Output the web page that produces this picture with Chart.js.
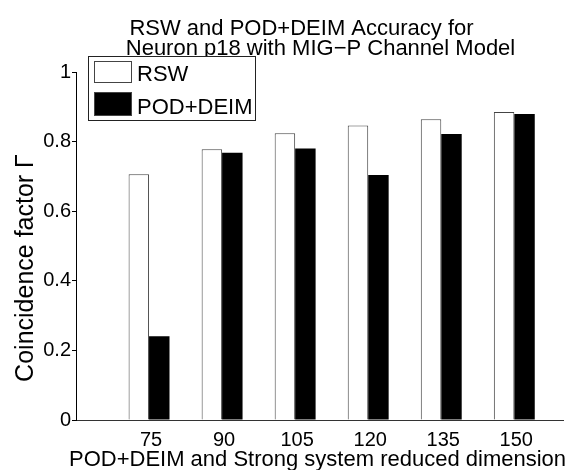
<!DOCTYPE html>
<html>
<head>
<meta charset="utf-8">
<script src="https://cdn.jsdelivr.net/npm/chart.js@4.4.1/dist/chart.umd.min.js"></script>
<style>
  html, body { margin: 0; padding: 0; background: #fff; }
  #wrap { width: 572px; height: 470px; }
</style>
</head>
<body>
<div id="wrap"><canvas id="c" width="572" height="470"></canvas></div>
<script>
// Reduced system dimension (x categories)
const dimensions = [75, 90, 105, 120, 135, 150];
// Coincidence factor for each method
const rswValues = [0.706, 0.778, 0.824, 0.846, 0.864, 0.885];
const podDeimValues = [0.241, 0.768, 0.780, 0.704, 0.822, 0.879];
// Y axis tick values
const yTicks = [0, 0.2, 0.4, 0.6, 0.8, 1];
const seriesNames = ['RSW', 'POD+DEIM'];
const seriesFills = ['#ffffff', '#000000'];
const titleLines = ['RSW and POD+DEIM Accuracy for', 'Neuron p18 with MIG\u2212P Channel Model'];
const xTitle = 'POD+DEIM and Strong system reduced dimension';
const yTitle = 'Coincidence factor \u0393';

const FONT = '"Liberation Sans", Arial, Helvetica, sans-serif';

// Text and legend drawn on top of the plot
const annotations = {
  id: 'annotations',
  afterDraw(chart) {
    const ctx = chart.ctx;
    const area = chart.chartArea;
    const mid = (area.left + area.right) / 2;
    ctx.save();
    ctx.fillStyle = '#000';
    ctx.font = '22px ' + FONT;
    ctx.textAlign = 'center';
    ctx.textBaseline = 'alphabetic';
    ctx.fillText(titleLines[0], mid - 18, 35);
    ctx.fillText(titleLines[1], mid + 1, 55);
    ctx.fillText(xTitle, mid - 2, 466);

    ctx.save();
    ctx.font = '25px ' + FONT;
    ctx.translate(33, 268);
    ctx.rotate(-Math.PI / 2);
    ctx.fillText(yTitle, 0, 0);
    ctx.restore();

    // legend box
    ctx.fillStyle = '#fff';
    ctx.strokeStyle = '#222';
    ctx.lineWidth = 1;
    ctx.fillRect(88.5, 56.5, 167, 64);
    ctx.strokeRect(88.5, 56.5, 167, 64);
    const rows = [{ y: 61, h: 22, base: 81 }, { y: 92, h: 24, base: 114 }];
    chart.data.datasets.forEach((ds, i) => {
      const r = rows[i];
      ctx.fillStyle = ds.backgroundColor;
      ctx.fillRect(94, r.y, 38, r.h);
      ctx.strokeStyle = '#444';
      ctx.strokeRect(94.5, r.y + 0.5, 37, r.h - 1);
      ctx.fillStyle = '#000';
      ctx.textAlign = 'left';
      ctx.fillText(ds.label, 137, r.base);
    });
    ctx.restore();
  }
};

new Chart(document.getElementById('c'), {
  type: 'bar',
  data: {
    datasets: [
      {
        label: seriesNames[0],
        data: dimensions.map((d, i) => ({ x: d, y: rswValues[i] })),
        backgroundColor: seriesFills[0],
        borderColor: '#444',
        borderWidth: 1
      },
      {
        label: seriesNames[1],
        data: dimensions.map((d, i) => ({ x: d, y: podDeimValues[i] })),
        backgroundColor: seriesFills[1],
        borderColor: '#000',
        borderWidth: 0
      }
    ]
  },
  options: {
    responsive: false,
    animation: false,
    devicePixelRatio: 1,
    categoryPercentage: 0.56,
    barPercentage: 1.0,
    layout: { padding: { top: 72, right: 9, left: 0, bottom: 0 } },
    plugins: {
      legend: { display: false },
      title: { display: false },
      tooltip: { enabled: false }
    },
    scales: {
      x: {
        type: 'linear',
        offset: false,
        min: 60,
        max: 160,
        afterBuildTicks: (scale) => { scale.ticks = dimensions.map(v => ({ value: v })); },
        afterFit: (scale) => { scale.height = 50; },
        border: { display: true, color: '#333', width: 1 },
        grid: { drawOnChartArea: false, drawTicks: false },
        ticks: {
          padding: 8,
          color: '#000',
          font: { family: FONT, size: 20 },
          maxRotation: 0,
          autoSkip: false,
          labelOffset: 2,
          callback: (v) => String(v)
        }
      },
      y: {
        min: 0,
        max: 1,
        afterBuildTicks: (scale) => { scale.ticks = yTicks.map(v => ({ value: v })); },
        afterFit: (scale) => { scale.width = 76; },
        border: { display: true, color: '#000', width: 1 },
        grid: { drawOnChartArea: false, drawTicks: true, tickLength: 4, color: '#000' },
        ticks: {
          padding: 1,
          color: '#000',
          font: { family: FONT, size: 20 },
          callback: (v) => (v === 0 || v === 1) ? String(v) : v.toFixed(1)
        }
      }
    }
  },
  plugins: [annotations]
});
</script>
</body>
</html>
